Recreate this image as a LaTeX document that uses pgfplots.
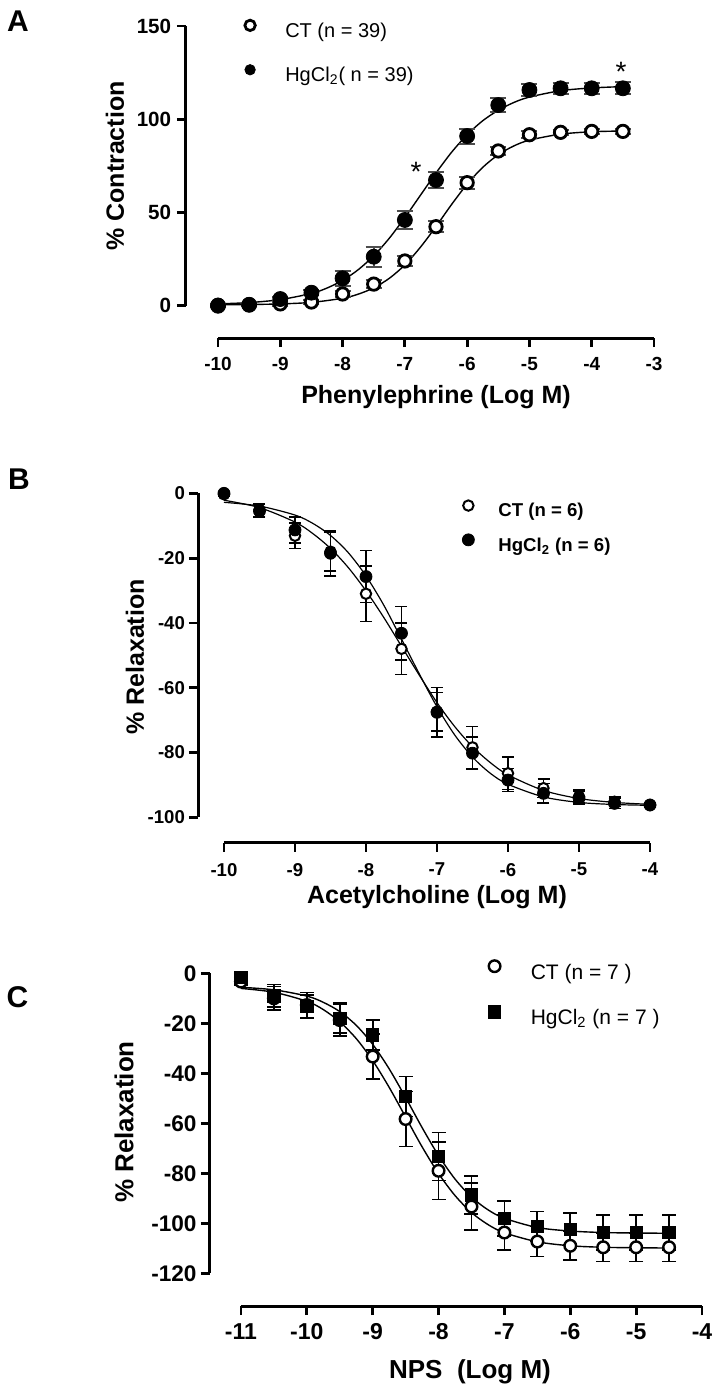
\documentclass[border=0pt]{standalone}
\usepackage{fontspec}
\setmainfont{Liberation Sans}
\usepackage{pgfplots}
\pgfplotsset{compat=1.18}

% common look: GraphPad-style detached axes, drawn by hand below
\pgfplotsset{
  prism/.style={
    scale only axis, clip=false,
    axis x line*=bottom, axis y line*=left,
    axis line style={draw=none},
    tick align=outside, major tick length=4.5pt,
    every tick/.style={black, line width=1.4pt},
    legend cell align=left,
    legend image code/.code={\draw[##1] plot coordinates {(0pt,3.6pt)};},
  },
  fit/.style={black, line width=0.7pt, smooth, no marks, forget plot},
}

\begin{document}
\begin{tikzpicture}
\useasboundingbox (0,0) rectangle (358.5pt,-694.5pt);

%%%%%%%%%%%%%%%% A
\begin{axis}[prism,
  at={(93pt,-169pt)}, anchor=south west,
  width=234pt, height=156pt,
  xmin=-10.514, xmax=-3, ymin=-17.3, ymax=150,
  xtick={-10,-9,-8,-7,-6,-5,-4,-3},
  xticklabels={-10,-9,-8,-7,-6,-5,-4,-3},
  ytick={0,50,100,150},
  yticklabels={0,50,100,150},
  xticklabel shift=1.8pt, yticklabel shift=-0.6pt,
  xticklabel style={font=\fontsize{9.5}{11}\selectfont\bfseries},
  yticklabel style={font=\fontsize{10.3}{12}\selectfont\bfseries},
  legend style={draw=none, fill=none, inner sep=0pt,
    at={(axis description cs:0.125,1.02)}, anchor=north west,
    font=\fontsize{10}{12}\selectfont, row sep=11pt,
    nodes={inner sep=0pt, text height=7.5pt, text depth=2.5pt},
    /tikz/every odd column/.append style={column sep=15pt}},
  legend image code/.code={\draw[#1, mark size=2.6pt] plot coordinates {(0pt,3.6pt)};},
]
\draw[line width=1.5pt] (axis cs:-10.514,0) -- (axis cs:-10.514,150);
\draw[line width=1.5pt] (axis cs:-10,-17.3) -- (axis cs:-3,-17.3);

\addplot[fit] coordinates {(-10,0.56) (-9.5,0.67) (-9,0.98) (-8.5,1.81) (-8,4.0)
 (-7.75,6.2) (-7.5,9.6) (-7.25,14.7) (-7,21.9) (-6.75,31.4) (-6.5,42.5)
 (-6.25,54.3) (-6,65.2) (-5.75,74.2) (-5.5,81.0) (-5.25,85.7) (-5,88.8)
 (-4.5,92.0) (-4,93.3) (-3.5,93.7)};
\addplot[fit] coordinates {(-10,1.0) (-9.5,1.7) (-9,3.3) (-8.5,6.6) (-8.25,9.5)
 (-8,13.6) (-7.75,19.3) (-7.5,26.8) (-7.25,36.2) (-7,47.3) (-6.75,59.25)
 (-6.5,71.2) (-6.25,82.3) (-6,91.7) (-5.75,99.2) (-5.5,104.8) (-5.25,109.0)
 (-5,111.9) (-4.5,115.3) (-4,116.8) (-3.5,117.5)};

\addplot[only marks, mark=*, mark size=3.1pt,
  mark options={draw=black, fill=white, line width=1.4pt},
  error bars/.cd, y dir=both, y explicit,
  error bar style={line width=1pt, black!70},
  error mark options={rotate=90, mark size=4pt, line width=1pt, black!70}]
 coordinates {(-10,0.3) +- (0,0.5) (-9.5,0.6) +- (0,0.5) (-9,1) +- (0,1)
 (-8.5,2) +- (0,1.2) (-8,6.3) +- (0,1.5) (-7.5,11.6) +- (0,2) (-7,24) +- (0,2.8)
 (-6.5,42.4) +- (0,3) (-6,66) +- (0,3.2) (-5.5,83) +- (0,2) (-5,91.7) +- (0,2)
 (-4.5,93) +- (0,1.5) (-4,93.5) +- (0,1.5) (-3.5,93.5) +- (0,1.5)};
\addlegendentry{CT (n = 39)}
\addplot[only marks, mark=*, mark size=3.75pt, mark options={draw=black, fill=black},
  error bars/.cd, y dir=both, y explicit,
  error bar style={line width=1pt, black!70},
  error mark options={rotate=90, mark size=4pt, line width=1pt, black!70}]
 coordinates {(-10,0) +- (0,0.5) (-9.5,0.5) +- (0,0.5) (-9,3.6) +- (0,1)
 (-8.5,7) +- (0,1.5) (-8,14.7) +- (0,4) (-7.5,26.3) +- (0,5.4) (-7,46) +- (0,5)
 (-6.5,67.4) +- (0,4.5) (-6,91) +- (0,4) (-5.5,107.6) +- (0,3.8) (-5,115.7) +- (0,3.2)
 (-4.5,116.6) +- (0,3) (-4,116.6) +- (0,3) (-3.5,116.6) +- (0,3.3)};
\addlegendentry{HgCl\textsubscript{2}( n = 39)}

\node[anchor=base, font=\fontsize{14}{14}\selectfont, inner sep=0pt] at (axis cs:-6.82,66.7) {*};
\node[anchor=base, font=\fontsize{14}{14}\selectfont, inner sep=0pt] at (axis cs:-3.53,120.3) {*};
\end{axis}

%%%%%%%%%%%%%%%% B
\begin{axis}[prism,
  at={(99pt,-421.35pt)}, anchor=south west,
  width=226pt, height=174.7pt,
  xmin=-10.366, xmax=-4, ymin=-107.84, ymax=0,
  xtick={-10,-9,-8,-7,-6,-5,-4},
  xticklabels={-10,-9,-8,-7,-6,-5,-4},
  ytick={0,-20,-40,-60,-80,-100},
  yticklabels={0,-20,-40,-60,-80,-100},
  xticklabel shift=2.2pt, yticklabel shift=-1.5pt,
  xticklabel style={font=\fontsize{9.3}{11}\selectfont\bfseries},
  yticklabel style={font=\fontsize{9.3}{11}\selectfont\bfseries},
  legend style={draw=none, fill=none, inner sep=0pt,
    at={(axis description cs:0.584,0.981)}, anchor=north west,
    font=\fontsize{9.3}{11}\selectfont\bfseries, row sep=6pt,
    nodes={inner sep=0pt, text height=7pt, text depth=2.5pt},
    /tikz/every odd column/.append style={column sep=12pt}},
  legend image code/.code={\draw[#1] plot coordinates {(0pt,3.4pt)};},
]
\draw[line width=1.5pt] (axis cs:-10.366,0) -- (axis cs:-10.366,-100);
\draw[line width=1.5pt] (axis cs:-10,-107.84) -- (axis cs:-4,-107.84);

\addplot[fit, line width=0.6pt] coordinates {(-10,-2.13) (-9.5,-4.41) (-9,-8.87)
 (-8.75,-12.4) (-8.5,-17.0) (-8.25,-22.9) (-8,-30.1) (-7.75,-38.3) (-7.5,-47.2)
 (-7.25,-56.1) (-7,-64.6) (-6.75,-72.0) (-6.5,-78.2) (-6.25,-83.1) (-6,-86.9)
 (-5.5,-91.7) (-5,-94.2) (-4.5,-95.4) (-4,-96.0)};
\addplot[fit, line width=0.6pt] coordinates {(-10,-2.78) (-9.5,-3.93) (-9,-6.71)
 (-8.75,-9.27) (-8.5,-13.0) (-8.25,-18.3) (-8,-25.5) (-7.75,-34.5) (-7.5,-45.0)
 (-7.25,-55.7) (-7,-65.9) (-6.75,-74.6) (-6.5,-81.4) (-6.25,-86.4) (-6,-89.8)
 (-5.5,-93.7) (-5,-95.4) (-4.5,-96.05) (-4,-96.3)};

\addplot[only marks, mark=*, mark size=2.6pt,
  mark options={draw=black, fill=white, line width=1pt},
  error bars/.cd, y dir=both, y explicit,
  error bar style={line width=0.7pt, black},
  error mark options={rotate=90, mark size=3pt, line width=0.7pt, black}]
 coordinates {(-10,-0.3) +- (0,0.5) (-9.5,-5.1) +- (0,2) (-9,-13.1) +- (0,3.9)
 (-8.5,-18) +- (0,6) (-8,-31) +- (0,8.6) (-7.5,-48) +- (0,8) (-7,-67.4) +- (0,6)
 (-6.5,-78.4) +- (0,6.5) (-6,-86.4) +- (0,5) (-5.5,-91) +- (0,2.8) (-5,-93.6) +- (0,2)
 (-4.5,-95.2) +- (0,1.5) (-4,-96.2) +- (0,0.8)};
\addlegendentry{CT (n = 6)}
\addplot[only marks, mark=*, mark size=3pt, mark options={draw=black, fill=black},
  error bars/.cd, y dir=both, y explicit,
  error bar style={line width=0.7pt, black},
  error mark options={rotate=90, mark size=3pt, line width=0.7pt, black}]
 coordinates {(-10,0) +- (0,0.5) (-9.5,-5.5) +- (0,2) (-9,-11.3) +- (0,4)
 (-8.5,-18.5) +- (0,7) (-8,-25.7) +- (0,8) (-7.5,-43.2) +- (0,8.3) (-7,-67.6) +- (0,7.6)
 (-6.5,-80.2) +- (0,5) (-6,-88.5) +- (0,3.6) (-5.5,-92.6) +- (0,3) (-5,-94.1) +- (0,2)
 (-4.5,-95.7) +- (0,1.5) (-4,-96.2) +- (0,0.8)};
\addlegendentry{HgCl\textsubscript{2} (n = 6)}
\end{axis}

%%%%%%%%%%%%%%%% C
\begin{axis}[prism,
  at={(105pt,-653pt)}, anchor=south west,
  width=246pt, height=166.35pt,
  xmin=-11.47, xmax=-4, ymin=-133.1, ymax=0,
  xtick={-11,-10,-9,-8,-7,-6,-5,-4},
  xticklabels={-11,-10,-9,-8,-7,-6,-5,-4},
  ytick={0,-20,-40,-60,-80,-100,-120},
  yticklabels={0,-20,-40,-60,-80,-100,-120},
  xticklabel shift=0.8pt, yticklabel shift=-1.3pt,
  xticklabel style={font=\fontsize{11.5}{13}\selectfont\bfseries},
  yticklabel style={font=\fontsize{11.3}{13}\selectfont\bfseries},
  legend style={draw=none, fill=none, inner sep=0pt,
    at={(axis description cs:0.565,1.04)}, anchor=north west,
    font=\fontsize{10.5}{12}\selectfont, row sep=10.5pt,
    nodes={inner sep=0pt, text height=8pt, text depth=2.7pt},
    /tikz/every odd column/.append style={column sep=15pt}},
  legend image code/.code={\draw[#1] plot coordinates {(0pt,3.8pt)};},
]
\draw[line width=1.5pt] (axis cs:-11.47,0) -- (axis cs:-11.47,-120);
\draw[line width=1.5pt] (axis cs:-11,-133.1) -- (axis cs:-4,-133.1);

\addplot[fit] coordinates {(-11,-6.04) (-10.5,-7.57) (-10,-11.2) (-9.75,-14.5)
 (-9.5,-19.4) (-9.25,-26.1) (-9,-34.9) (-8.75,-45.6) (-8.5,-57.5) (-8.25,-69.4)
 (-8,-80.1) (-7.75,-88.9) (-7.5,-95.7) (-7.25,-100.5) (-7,-103.8) (-6.5,-107.4)
 (-6,-109.0) (-5.5,-109.6) (-5,-109.8) (-4.5,-109.9)};
\addplot[fit] coordinates {(-11,-5.6) (-10.5,-6.6) (-10,-9.1) (-9.75,-11.6)
 (-9.5,-15.3) (-9.25,-20.8) (-9,-28.4) (-8.75,-38.2) (-8.5,-49.7) (-8.25,-61.7)
 (-8,-72.9) (-7.75,-82.3) (-7.5,-89.5) (-7.25,-94.6) (-7,-98.0) (-6.5,-101.7)
 (-6,-103.1) (-5.5,-103.7) (-5,-103.9) (-4.5,-104.0)};

\addplot[only marks, mark=*, mark size=2.9pt,
  mark options={draw=black, fill=white, line width=1.2pt},
  error bars/.cd, y dir=both, y explicit,
  error bar style={line width=0.9pt, black},
  error mark options={rotate=90, mark size=3.5pt, line width=0.9pt, black}]
 coordinates {(-11,-3.3) +- (0,1.5) (-10.5,-10) +- (0,4.7) (-10,-12.7) +- (0,5)
 (-9.5,-18.7) +- (0,6.3) (-9,-33.3) +- (0,9) (-8.5,-58.3) +- (0,11) (-8,-79) +- (0,11.5)
 (-7.5,-93.3) +- (0,9.3) (-7,-103.7) +- (0,7) (-6.5,-107.3) +- (0,6) (-6,-109) +- (0,5.7)
 (-5.5,-109.6) +- (0,5.7) (-5,-109.6) +- (0,5.7) (-4.5,-109.6) +- (0,5.7)};
\addlegendentry{CT (n = 7 )}
\addplot[only marks, mark=square*, mark size=3.1pt, mark options={draw=black, fill=black},
  error bars/.cd, y dir=both, y explicit,
  error bar style={line width=0.9pt, black},
  error mark options={rotate=90, mark size=3.5pt, line width=0.9pt, black}]
 coordinates {(-11,-1.6) +- (0,1.5) (-10.5,-9) +- (0,4.5) (-10,-13.3) +- (0,4.5)
 (-9.5,-18) +- (0,6) (-9,-24.7) +- (0,6) (-8.5,-49.3) +- (0,8) (-8,-73.3) +- (0,9.6)
 (-7.5,-88.7) +- (0,7.7) (-7,-98) +- (0,7) (-6.5,-101.3) +- (0,6) (-6,-102.4) +- (0,6.4)
 (-5.5,-103.7) +- (0,7) (-5,-103.7) +- (0,7) (-4.5,-103.7) +- (0,7)};
\addlegendentry{HgCl\textsubscript{2} (n = 7 )}
\end{axis}

% axis titles and panel letters
\begin{scope}[every node/.style={font=\fontsize{12.5}{14}\selectfont\bfseries, inner sep=0pt}]
\node at (218pt,-198.5pt) {Phenylephrine (Log M)};
\node at (218.5pt,-448.5pt) {Acetylcholine (Log M)};
\node[font=\fontsize{13}{15}\selectfont\bfseries] at (235pt,-686pt) {NPS\ \ (Log M)};
\node[rotate=90] at (57.5pt,-83pt) {\% Contraction};
\node[rotate=90] at (67.5pt,-328.5pt) {\% Relaxation};
\node[rotate=90, font=\fontsize{13}{15}\selectfont\bfseries] at (62pt,-561pt) {\% Relaxation};
\node[font=\fontsize{15}{16}\selectfont\bfseries] at (9pt,-10.5pt) {A};
\node[font=\fontsize{15}{16}\selectfont\bfseries] at (9.5pt,-239.5pt) {B};
\node[font=\fontsize{15}{16}\selectfont\bfseries] at (8.75pt,-498.5pt) {C};
\end{scope}
\end{tikzpicture}
\end{document}
